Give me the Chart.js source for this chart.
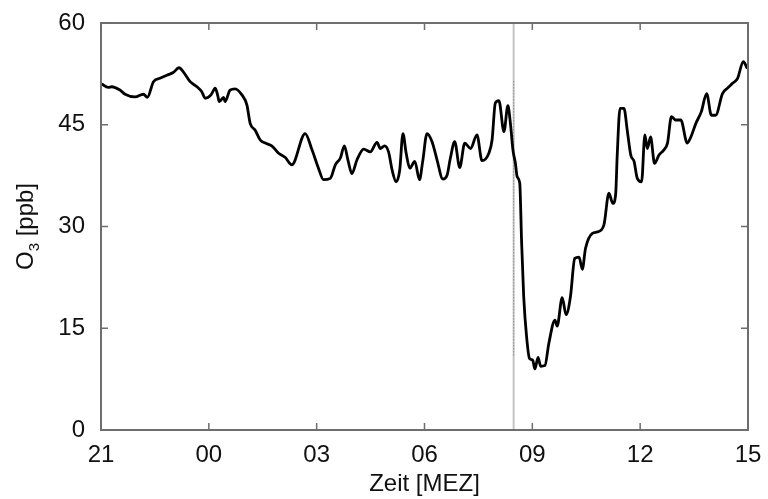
<!DOCTYPE html>
<html>
<head>
<meta charset="utf-8">
<script src="https://cdn.jsdelivr.net/npm/chart.js@4.4.1/dist/chart.umd.min.js"></script>
<style>
  html, body { margin: 0; padding: 0; background: #fff; }
  #wrap { width: 768px; height: 499px; }
</style>
</head>
<body>
<div id="wrap"><canvas id="ozoneChart"></canvas></div>
<script>
// hours after 21:00 MEZ
const hours = [
  0.02, 0.2, 0.3, 0.53, 0.67, 0.95, 1.18, 1.29, 1.46, 1.64, 1.83, 2.01, 2.17, 2.29, 2.48, 2.67,
  2.8, 2.9, 3.06, 3.18, 3.25, 3.29, 3.41, 3.45, 3.59, 3.73, 3.92, 4.06, 4.15, 4.29, 4.43, 4.57,
  4.75, 4.94, 5.12, 5.31, 5.68, 5.87, 6.05, 6.19, 6.38, 6.52, 6.66, 6.77, 6.87, 6.98, 7.12, 7.31, 7.49, 7.68,
  7.77, 7.89, 8.0, 8.1, 8.21, 8.31, 8.4, 8.49, 8.59, 8.73, 8.86, 8.95, 9.07, 9.21, 9.35, 9.51,
  9.63, 9.72, 9.84, 9.98, 10.12, 10.28, 10.46, 10.6, 10.79, 10.88, 10.97, 11.07, 11.21, 11.32, 11.39, 11.46,
  11.53, 11.58, 11.65, 11.7, 11.76, 11.84, 11.92, 12.01, 12.07, 12.16, 12.23, 12.35, 12.46, 12.63, 12.69, 12.83,
  12.94, 13.06, 13.18, 13.3, 13.39, 13.48, 13.67, 13.81, 13.99, 14.13, 14.24, 14.32, 14.36, 14.44, 14.55, 14.64,
  14.74, 14.83, 14.92, 15.04, 15.13, 15.2, 15.29, 15.4, 15.52, 15.66, 15.76, 15.87, 15.99, 16.13, 16.31, 16.41,
  16.55, 16.7, 16.85, 16.98, 17.1, 17.29, 17.43, 17.57, 17.71, 17.87, 17.98
];
const ozone = [
  51.0, 50.5, 50.6, 50.1, 49.5, 49.1, 49.5, 49.05, 51.35, 51.85, 52.3, 52.7, 53.4, 52.8, 51.35, 50.6,
  49.9, 48.9, 49.4, 50.4, 49.25, 48.4, 49.05, 48.4, 50.1, 50.3, 49.4, 47.9, 45.2, 44.2, 42.75, 42.3,
  41.9, 40.8, 40.2, 39.1, 43.7, 41.3, 38.6, 36.9, 37.1, 39.1, 40.1, 41.9, 39.8, 37.8, 39.8, 41.4, 41.0, 42.4,
  41.5, 41.9, 41.0, 38.3, 36.6, 38.3, 43.7, 40.8, 38.6, 39.6, 36.9, 39.6, 43.7, 42.5, 39.8, 37.0,
  37.6, 40.1, 42.5, 38.7, 42.3, 41.5, 43.5, 39.7, 40.8, 42.75, 48.2, 48.55, 44.0, 47.8, 45.2, 41.3,
  39.3, 37.3, 36.4, 28.0, 19.65, 13.75, 10.55, 10.3, 9.0, 10.7, 9.4, 9.5, 12.8, 16.2, 15.3, 19.5,
  17.0, 19.65, 25.3, 25.5, 23.7, 26.8, 29.0, 29.2, 30.2, 34.9, 33.4, 34.9, 40.3, 47.4, 47.4, 44.2,
  40.5, 39.6, 37.1, 36.6, 43.5, 41.5, 43.2, 39.3, 40.5, 41.3, 42.3, 46.2, 45.7, 45.7, 42.3, 43.2,
  45.2, 46.9, 49.6, 46.4, 46.4, 49.6, 50.4, 51.1, 51.85, 54.3, 53.3
];
const xTickLabels = ['21', '00', '03', '06', '09', '12', '15'];
const yTickValues = [0, 15, 30, 45, 60];
const markerHour = 11.48;

const axisColor = '#6e6e6e';
const fontFamily = '"Liberation Sans", Arial, Helvetica, sans-serif';

// MATLAB-like box with inward ticks on all four sides, plus the O3 label with subscript
const boxPlugin = {
  id: 'boxPlugin',
  afterDraw(chart) {
    const { ctx, chartArea: a, scales } = chart;
    ctx.save();
    ctx.strokeStyle = axisColor;
    ctx.lineWidth = 2;
    ctx.strokeRect(a.left, a.top, a.right - a.left, a.bottom - a.top);
    ctx.lineWidth = 1.5;
    const len = 7;
    ctx.beginPath();
    xTickLabels.forEach((_, i) => {
      const px = scales.x.getPixelForValue(i * 3);
      ctx.moveTo(px, a.bottom); ctx.lineTo(px, a.bottom - len);
      ctx.moveTo(px, a.top); ctx.lineTo(px, a.top + len);
    });
    yTickValues.forEach(v => {
      const py = scales.y.getPixelForValue(v);
      ctx.moveTo(a.left, py); ctx.lineTo(a.left + len, py);
      ctx.moveTo(a.right, py); ctx.lineTo(a.right - len, py);
    });
    ctx.stroke();

    // y title: O_3 [ppb]
    ctx.fillStyle = '#111';
    ctx.translate(33, (a.top + a.bottom) / 2);
    ctx.rotate(-Math.PI / 2);
    ctx.textBaseline = 'alphabetic';
    ctx.textAlign = 'left';
    const big = '24px ' + fontFamily, small = '15px ' + fontFamily;
    ctx.font = big;
    const wO = ctx.measureText('O').width;
    const wRest = ctx.measureText(' [ppb]').width;
    ctx.font = small;
    const w3 = ctx.measureText('3').width;
    let x0 = -(wO + w3 + wRest) / 2;
    ctx.font = big;
    ctx.fillText('O', x0, 0);
    ctx.font = small;
    ctx.fillText('3', x0 + wO, 6);
    ctx.font = big;
    ctx.fillText(' [ppb]', x0 + wO + w3, 0);
    ctx.restore();
  }
};

new Chart(document.getElementById('ozoneChart'), {
  type: 'line',
  data: {
    datasets: [
      {
        label: 'O3',
        data: hours.map((h, i) => ({ x: h, y: ozone[i] })),
        borderColor: '#000',
        borderWidth: 2.8,
        borderJoinStyle: 'round',
        pointRadius: 0,
        cubicInterpolationMode: 'monotone'
      },
      {
        label: 'marker dots',
        data: [{ x: markerHour, y: 11 }, { x: markerHour, y: 51.5 }],
        borderColor: '#777',
        borderWidth: 1,
        borderDash: [1, 2],
        pointRadius: 0
      },
      {
        label: 'marker',
        data: [{ x: markerHour, y: 0 }, { x: markerHour, y: 60 }],
        borderColor: '#c4c4c4',
        borderWidth: 2,
        pointRadius: 0
      }
    ]
  },
  options: {
    responsive: true,
    maintainAspectRatio: false,
    animation: false,
    devicePixelRatio: 1,
    layout: { padding: { top: 23, right: 20, left: 0, bottom: 0 } },
    plugins: { legend: { display: false }, tooltip: { enabled: false } },
    scales: {
      x: {
        type: 'linear',
        min: 0,
        max: 18,
        afterFit(scale) { scale.height = 69; },
        grid: { display: false },
        border: { display: false },
        ticks: {
          stepSize: 3,
          autoSkip: false,
          maxRotation: 0,
          padding: 3,
          color: '#111',
          font: { family: fontFamily, size: 24 },
          callback: v => xTickLabels[v / 3]
        },
        title: {
          display: true,
          text: 'Zeit [MEZ]',
          color: '#111',
          font: { family: fontFamily, size: 24 },
          padding: { top: -4, bottom: 0 }
        }
      },
      y: {
        min: 0,
        max: 60,
        afterFit(scale) { scale.width = 101; },
        grid: { display: false },
        border: { display: false },
        ticks: {
          stepSize: 15,
          padding: 8,
          color: '#111',
          font: { family: fontFamily, size: 24 }
        }
      }
    }
  },
  plugins: [boxPlugin]
});
</script>
</body>
</html>
